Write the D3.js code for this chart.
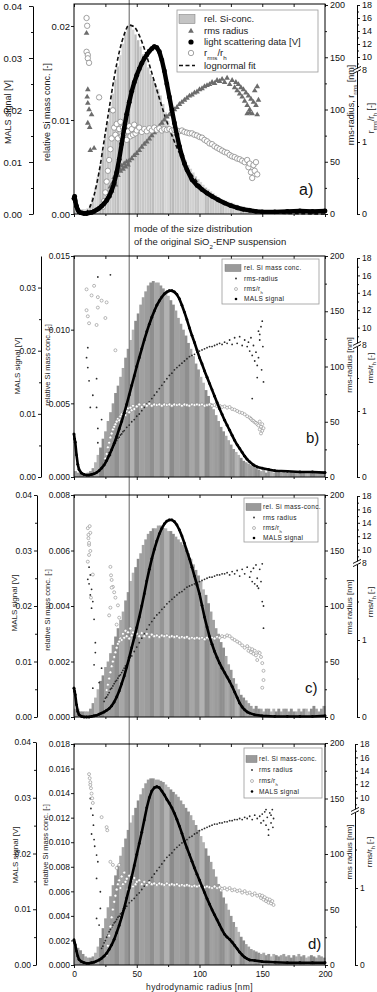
<!DOCTYPE html>
<html>
<head>
<meta charset="utf-8">
<script src="https://cdn.jsdelivr.net/npm/d3@7"></script>
<style>
  body { margin: 0; background: #fff; }
  svg { display: block; }
</style>
</head>
<body>
<script>
// ---------- data ----------
const binWidth = 2;                       // nm, histogram bins 0-2, 2-4, ... 198-200
const bins = d3.range(0, 200, binWidth);
const xTicks = [0, 50, 100, 150, 200];
const xMinor = [25, 75, 125, 175];
const modeRadius = 44;                    // nm, mode of the original SiO2-ENP suspension

// relative Si mass conc. per 2 nm bin
const histA = [0.0003,0.0005,0.0005,0.0005,0.0005,0.0006,0.0010,0.0018,0.0028,0.0039,
  0.0052,0.0067,0.0082,0.0098,0.0113,0.0128,0.0143,0.0157,0.0169,0.0181,
  0.0192,0.0199,0.0200,0.0196,0.0191,0.0185,0.0178,0.0170,0.0163,0.0156,
  0.0149,0.0143,0.0138,0.0133,0.0126,0.0117,0.0108,0.0099,0.0092,0.0085,
  0.0079,0.0073,0.0067,0.0062,0.0057,0.0052,0.0048,0.0044,0.0040,0.0037,
  0.0034,0.0031,0.0028,0.0026,0.0024,0.0022,0.0020,0.0018,0.0016,0.0015,
  0.0014,0.0013,0.0012,0.0011,0.0010,0.0009,0.0008,0.0008,0.0007,0.0007,
  0.0006,0.0006,0.0005,0.0005,0.0005,0.0004,0.0004,0.0004,0.0004,0.0003,
  0.0003,0.0003,0.0003,0.0003,0.0002,0.0002,0.0002,0.0002,0.0002,0.0002,
  0.0002,0.0002,0.0001,0.0001,0.0001,0.0001,0.0001,0.0001,0.0001,0.0001];
const histB = [0.0004,0.0003,0.0003,0.0002,0.0002,0.0003,0.0004,0.0006,0.0010,0.0015,
  0.0020,0.0026,0.0031,0.0038,0.0044,0.0050,0.0057,0.0062,0.0068,0.0074,
  0.0081,0.0087,0.0093,0.0100,0.0106,0.0111,0.0117,0.0122,0.0126,0.0130,
  0.0132,0.0133,0.0132,0.0132,0.0130,0.0128,0.0126,0.0123,0.0120,0.0117,
  0.0113,0.0108,0.0104,0.0100,0.0096,0.0091,0.0087,0.0082,0.0077,0.0073,
  0.0068,0.0064,0.0059,0.0055,0.0050,0.0046,0.0042,0.0038,0.0034,0.0031,
  0.0028,0.0025,0.0022,0.0019,0.0017,0.0015,0.0013,0.0011,0.0010,0.0009,
  0.0008,0.0007,0.0006,0.0005,0.0004,0.0005,0.0003,0.0004,0.0004,0.0003,
  0.0005,0.0004,0.0003,0.0004,0.0003,0.0003,0.0004,0.0003,0.0004,0.0003,
  0.0003,0.0004,0.0003,0.0003,0.0004,0.0003,0.0003,0.0004,0.0003,0.0003];
const histC = [0.0003,0.0003,0.0002,0.0002,0.0002,0.0002,0.0003,0.0005,0.0007,0.0010,
  0.0013,0.0015,0.0018,0.0020,0.0023,0.0026,0.0029,0.0032,0.0035,0.0038,
  0.0042,0.0045,0.0049,0.0052,0.0054,0.0057,0.0059,0.0062,0.0064,0.0066,
  0.0067,0.0068,0.0068,0.0069,0.0069,0.0068,0.0068,0.0067,0.0067,0.0066,
  0.0065,0.0064,0.0063,0.0062,0.0061,0.0059,0.0057,0.0055,0.0053,0.0051,
  0.0049,0.0046,0.0044,0.0041,0.0038,0.0035,0.0032,0.0030,0.0027,0.0025,
  0.0022,0.0019,0.0017,0.0014,0.0012,0.0010,0.0008,0.0007,0.0006,0.0005,
  0.0004,0.0003,0.0004,0.0003,0.0003,0.0002,0.0003,0.0003,0.0002,0.0003,
  0.0002,0.0003,0.0002,0.0003,0.0003,0.0002,0.0003,0.0002,0.0002,0.0003,
  0.0002,0.0003,0.0003,0.0002,0.0003,0.0004,0.0003,0.0002,0.0003,0.0004];
const histD = [0.0015,0.0014,0.0012,0.0009,0.0007,0.0006,0.0006,0.0007,0.0010,0.0015,
  0.0022,0.0030,0.0038,0.0047,0.0056,0.0065,0.0073,0.0081,0.0089,0.0096,
  0.0103,0.0110,0.0116,0.0122,0.0128,0.0134,0.0139,0.0144,0.0148,0.0151,
  0.0152,0.0152,0.0151,0.0151,0.0150,0.0149,0.0147,0.0145,0.0143,0.0141,
  0.0139,0.0137,0.0134,0.0131,0.0128,0.0125,0.0122,0.0118,0.0114,0.0110,
  0.0105,0.0100,0.0095,0.0089,0.0084,0.0078,0.0072,0.0066,0.0060,0.0055,
  0.0050,0.0045,0.0040,0.0035,0.0031,0.0027,0.0023,0.0020,0.0017,0.0015,
  0.0013,0.0012,0.0011,0.0010,0.0009,0.0010,0.0008,0.0009,0.0007,0.0009,
  0.0008,0.0007,0.0008,0.0009,0.0007,0.0008,0.0006,0.0008,0.0007,0.0009,
  0.0007,0.0008,0.0006,0.0007,0.0008,0.0007,0.0006,0.0008,0.0007,0.0006];

// lognormal fit of panel a [nm, rel. conc.]
const fitA = [[4,0],[8,0.0001],[12,0.0006],[16,0.0020],[20,0.0045],[24,0.0078],[28,0.0112],
  [32,0.0145],[36,0.0172],[40,0.0191],[44,0.0201],[48,0.0199],[52,0.0190],[56,0.0176],
  [60,0.0159],[64,0.0141],[68,0.0123],[72,0.0106],[76,0.0091],[80,0.0077],[84,0.0065],
  [88,0.0054],[92,0.0045],[96,0.0038],[100,0.0031],[108,0.0021],[116,0.0014],[124,0.0009],
  [132,0.0006],[140,0.0004],[150,0.0002],[160,0.0001],[175,0.00005],[200,0]];

// MALS / light scattering signal [nm, V]
const malsA = [[0,0.0030],[0.5,0.0034],[1,0.0025],[2,0.0015],[3,0.0008],[4,0.0004],[6,0.0002],
  [8,0.0001],[10,0.0001],[12,0.0002],[14,0.0003],[16,0.0005],[18,0.0008],[20,0.0011],
  [22,0.0015],[24,0.0020],[26,0.0026],[28,0.0034],[30,0.0045],[32,0.0060],[34,0.0080],
  [36,0.0105],[38,0.0135],[40,0.0165],[42,0.0192],[44,0.0215],[46,0.0236],[48,0.0253],
  [50,0.0267],[52,0.0279],[54,0.0290],[56,0.0299],[58,0.0306],[60,0.0313],[62,0.0318],
  [64,0.0322],[66,0.0320],[68,0.0312],[70,0.0296],[72,0.0275],[74,0.0250],[76,0.0225],
  [78,0.0200],[80,0.0175],[82,0.0152],[84,0.0130],[86,0.0112],[88,0.0097],[90,0.0085],
  [94,0.0066],[98,0.0055],[102,0.0047],[106,0.0040],[110,0.0034],[115,0.0027],[120,0.0021],
  [125,0.0016],[130,0.0012],[135,0.0009],[140,0.0007],[145,0.0005],[150,0.0004],[160,0.0004],
  [170,0.0005],[180,0.0006],[190,0.0005],[200,0.0006]];
const malsB = [[0,0.0068],[0.5,0.0060],[1,0.0055],[2,0.0035],[3,0.0020],[4,0.0012],[6,0.0006],
  [8,0.0004],[10,0.0003],[12,0.0003],[14,0.0004],[16,0.0005],[18,0.0007],[20,0.0010],
  [22,0.0014],[24,0.0019],[26,0.0026],[28,0.0034],[30,0.0043],[32,0.0053],[34,0.0064],
  [36,0.0076],[38,0.0088],[40,0.0101],[42,0.0115],[44,0.0130],[46,0.0145],[48,0.0160],
  [50,0.0175],[52,0.0189],[54,0.0203],[56,0.0217],[58,0.0230],[60,0.0242],[62,0.0253],
  [64,0.0263],[66,0.0272],[68,0.0279],[70,0.0285],[72,0.0290],[74,0.0293],[76,0.0295],
  [78,0.0295],[80,0.0293],[82,0.0289],[84,0.0282],[86,0.0272],[88,0.0261],[90,0.0249],
  [92,0.0236],[94,0.0224],[96,0.0213],[98,0.0201],[100,0.0189],[102,0.0179],[104,0.0168],
  [106,0.0158],[108,0.0148],[110,0.0138],[112,0.0128],[114,0.0118],[116,0.0108],[118,0.0099],
  [120,0.0090],[122,0.0082],[124,0.0074],[126,0.0066],[128,0.0058],[130,0.0051],[132,0.0045],
  [134,0.0039],[136,0.0033],[138,0.0028],[140,0.0024],[143,0.0019],[146,0.0016],[150,0.0014],
  [155,0.0012],[160,0.0010],[170,0.0009],[180,0.0008],[190,0.0008],[200,0.0007]];
const malsC = [[0,0.0052],[0.5,0.0046],[1,0.0040],[2,0.0022],[3,0.0010],[4,0.0004],[6,0.0001],
  [8,0],[10,0],[12,0],[14,0.0001],[16,0.0002],[18,0.0003],[20,0.0005],[22,0.0007],
  [24,0.0009],[26,0.0012],[28,0.0015],[30,0.0020],[32,0.0027],[34,0.0036],[36,0.0047],
  [38,0.0060],[40,0.0074],[42,0.0090],[44,0.0107],[46,0.0125],[48,0.0143],[50,0.0161],
  [52,0.0180],[54,0.0200],[56,0.0222],[58,0.0245],[60,0.0266],[62,0.0285],[64,0.0302],
  [66,0.0317],[68,0.0330],[70,0.0340],[72,0.0348],[74,0.0353],[76,0.0355],[78,0.0355],
  [80,0.0352],[82,0.0346],[84,0.0337],[86,0.0326],[88,0.0313],[90,0.0299],[92,0.0285],
  [94,0.0270],[96,0.0254],[98,0.0238],[100,0.0222],[102,0.0201],[104,0.0180],[106,0.0162],
  [108,0.0145],[110,0.0131],[112,0.0118],[114,0.0107],[116,0.0097],[118,0.0088],[120,0.0080],
  [122,0.0072],[124,0.0064],[126,0.0055],[128,0.0045],[130,0.0035],[132,0.0025],[134,0.0018],
  [136,0.0013],[138,0.0009],[140,0.0007],[144,0.0004],[150,0.0002],[160,0.0001],[170,0.0001],
  [180,0.0001],[190,0.0001],[200,0.0002]];
const malsD = [[0,0.0045],[0.5,0.0040],[1,0.0036],[2,0.0025],[3,0.0016],[4,0.0010],[6,0.0006],
  [8,0.0004],[10,0.0003],[12,0.0003],[14,0.0004],[16,0.0005],[18,0.0007],[20,0.0009],
  [22,0.0012],[24,0.0016],[26,0.0021],[28,0.0028],[30,0.0036],[32,0.0046],[34,0.0058],
  [36,0.0071],[38,0.0086],[40,0.0102],[42,0.0120],[44,0.0138],[46,0.0158],[48,0.0178],
  [50,0.0198],[52,0.0218],[54,0.0238],[56,0.0260],[58,0.0282],[60,0.0300],[62,0.0312],
  [64,0.0318],[66,0.0320],[68,0.0318],[70,0.0312],[72,0.0305],[74,0.0297],[76,0.0290],
  [78,0.0282],[80,0.0272],[82,0.0261],[84,0.0249],[86,0.0236],[88,0.0222],[90,0.0210],
  [92,0.0198],[94,0.0186],[96,0.0174],[98,0.0163],[100,0.0152],[102,0.0141],[104,0.0130],
  [106,0.0119],[108,0.0109],[110,0.0099],[112,0.0090],[114,0.0081],[116,0.0072],[118,0.0063],
  [120,0.0055],[122,0.0050],[124,0.0046],[126,0.0041],[128,0.0035],[130,0.0029],[132,0.0023],
  [134,0.0018],[136,0.0014],[138,0.0011],[140,0.0009],[144,0.0008],[150,0.0006],[160,0.0005],
  [170,0.0004],[180,0.0004],[190,0.0004],[200,0.0004]];

// rms radius [nm, nm]
const rmsA = [[10,173],[11,119],[10.5,112],[11,106],[12,100],[11,87],[12.5,83],[13,61],[16,63],[14,95],
  [26,14],[27,20],[28,17],[29,26],[30,22],[31,30],[32,35],[33,28],[34,40],[35,37],[36,44],[37,41],
  [38,46],[39,43],[40,48],[41,45],[42,50],[43,47],[44,51],[46,53],[48,56],[50,58],[52,61],[54,64],
  [56,67],[58,69],[60,72],[62,75],[64,78],[66,81],[68,84],[70,87],[72,90],[74,93],[76,95],[78,98],
  [80,100],[82,102],[84,105],[86,107],[88,109],[90,111],[92,113],[94,114],[96,116],[98,117],
  [100,119],[102,120],[104,122],[106,123],[108,124],[110,126],[112,125],[114,128],[116,127],
  [118,129],[120,126],[122,130],[124,124],[126,128],[128,121],[129,126],[130,118],[131,124],
  [132,115],[133,121],[134,112],[135,119],[136,108],[137,116],[138,104],[139,113],[140,100],
  [141,110],[142,96],[143,107],[144,118],[145,104],[146,95],[146,122],[147,109],[140,97],[138,96]];
const rmsB = [[29,183],[19,181],[11,117],[10,108],[11,99],[12,87],[18,89],[13,63],[18,63],[19,44],
  [19,31],[15,74],[22,52],
  [22,8],[23,12],[24,11],[25,15],[26,17],[27,19],[28,22],[29,20],[30,25],[31,27],[32,29],[33,31],
  [34,33],[35,35],[36,36],[37,38],[38,39],[39,41],[40,42],[42,45],[44,47],[46,50],[48,52],[50,55],
  [52,57],[54,60],[56,63],[58,66],[60,68],[62,71],[64,74],[66,77],[68,80],[70,83],[72,86],[74,89],
  [76,92],[78,94],[80,97],[82,99],[84,101],[86,103],[88,105],[90,107],[92,109],[94,110],[96,111],
  [98,113],[100,114],[102,115],[104,116],[106,117],[108,118],[110,118],[112,119],[114,120],
  [116,121],[118,120],[120,122],[122,121],[124,124],[126,120],[128,126],[130,121],[132,127],
  [134,119],[136,124],[138,118],[139,122],[140,114],[141,126],[142,110],[143,119],[144,105],
  [145,113],[146,101],[147,108],[148,129],[149,136],[150,141],[150.5,118],[149.5,97],[146,90],
  [142,71],[151,86],[148,124],[147,132]];
const rmsC = [[12,135],[13,128],[12,120],[14,115],[13,110],[15,104],[14,98],[17,67],[17,58],[16,47],
  [15,26],[20,31],[22,44],[11,124],[16,88],
  [24,14],[25,17],[26,18],[27,20],[28,22],[29,25],[30,26],[31,28],[32,30],[33,32],[34,33],[35,35],
  [36,37],[37,38],[38,40],[39,42],[40,44],[41,46],[42,47],[43,49],[44,51],[46,55],[48,59],[50,63],
  [52,67],[54,71],[56,75],[58,79],[60,83],[62,86],[64,89],[66,92],[68,94],[70,97],[72,99],[74,102],
  [76,104],[78,106],[80,108],[82,110],[84,112],[86,113],[88,115],[90,117],[92,118],[94,119],
  [96,120],[98,121],[100,122],[102,123],[104,124],[106,125],[108,126],[110,126],[112,127],
  [114,128],[116,128],[118,129],[120,129],[122,130],[124,128],[126,131],[128,129],[130,132],
  [132,127],[134,133],[136,129],[138,135],[140,126],[141,131],[142,122],[143,134],[144,120],
  [145,137],[146,125],[147,116],[148,133],[149,122],[150,138],[150,104],[151,100],[151,80],[146,118]];
const rmsD = [[13,150],[13.5,141],[15,135],[15.5,126],[16,113],[16.5,107],[18,99],[19,93],[18,78],
  [21,66],[18,42],[21,51],[20,36],[14,118],
  [22,15],[23,17],[24,20],[25,22],[26,25],[27,27],[28,30],[29,32],[30,34],[31,36],[32,38],[33,39],
  [34,41],[35,43],[36,44],[37,46],[38,47],[39,49],[40,50],[42,53],[44,56],[46,58],[48,60],[50,63],
  [52,65],[54,68],[56,71],[58,73],[60,76],[62,79],[64,82],[66,85],[68,88],[70,91],[72,94],[74,97],
  [76,99],[78,101],[80,104],[82,106],[84,108],[86,110],[88,112],[90,113],[92,115],[94,116],
  [96,118],[98,119],[100,121],[102,122],[104,123],[106,124],[108,125],[110,126],[112,127],
  [114,127],[116,128],[118,128],[120,129],[122,129],[124,130],[126,130],[128,131],[130,131],
  [132,132],[134,131],[136,133],[138,132],[140,134],[142,131],[144,135],[146,132],[148,134],
  [149,128],[150,136],[151,130],[152,138],[153,126],[154,133],[155,122],[156,137],[157,128],
  [158,140],[158.5,124],[159,132],[155,117],[153,140],[157,135]];

// r_rms / r_h [nm, -]  (values above 2 sit on the upper, broken part of the axis)
const ratioA = [[10,16],[10.5,14.8],[10,10.8],[11,10.3],[11,9.8],[12,9.1],
  [20,1.62],[23,0.1],[24,0.18],[25,0.3],[26,0.45],[27,0.6],[28,0.75],[29,0.9],[30,1.05],[31,1.44],
  [32,1.2],[33,1.1],[34,1.25],[35,1.05],[36,1.18],[37,1.28],[38,1.08],[39,1.2],[40,1.12],[41,1.26],
  [42,1.03],[43,1.15],[44,1.22],[45,1.08],[46,1.18],[47,1.1],[48,1.24],[49,1.12],[50,1.16],
  [52,1.2],[54,1.14],[56,1.18],[58,1.15],[60,1.19],[62,1.16],[64,1.2],[66,1.17],[68,1.19],
  [70,1.16],[72,1.18],[74,1.17],[76,1.18],[78,1.16],[80,1.17],[82,1.16],[84,1.15],[86,1.16],
  [88,1.14],[90,1.13],[92,1.12],[94,1.12],[96,1.1],[98,1.09],[100,1.07],[102,1.06],[104,1.03],
  [106,1.01],[108,0.98],[110,0.97],[112,0.94],[114,0.92],[116,0.9],[118,0.88],[120,0.86],
  [122,0.85],[124,0.82],[126,0.8],[128,0.79],[130,0.77],[132,0.76],[134,0.74],[136,0.72],
  [138,0.75],[139,0.65],[140,0.7],[141,0.58],[142,0.5],[143,0.68],[144,0.6],[145,0.72],[146,0.55]];
const ratioB = [[10,14.4],[14,13.7],[19,13.5],[10,12],[11,11.3],[12,10.5],[19,12.3],[26,12.9],
  [25,11.1],[18,10.3],[16,14.8],[22,13.1],
  [33,1.92],[24,0.2],[25,0.28],[26,0.35],[27,0.45],[28,0.52],[29,0.6],[30,0.66],[31,0.72],
  [32,0.76],[33,0.8],[34,0.84],[35,0.88],[36,0.86],[37,0.92],[38,0.95],[39,0.9],[40,0.98],
  [41,0.94],[42,1.0],[43,1.04],[44,0.98],[45,1.05],[46,1.01],[47,1.08],[48,1.03],[50,1.07],
  [52,1.1],[54,1.06],[56,1.1],[58,1.08],[60,1.11],[62,1.08],[64,1.1],[66,1.09],[68,1.1],
  [70,1.08],[72,1.1],[74,1.09],[76,1.1],[78,1.08],[80,1.1],[82,1.09],[84,1.1],[86,1.08],
  [88,1.1],[90,1.09],[92,1.08],[94,1.1],[96,1.09],[98,1.1],[100,1.09],[102,1.1],[104,1.08],
  [106,1.09],[108,1.1],[110,1.08],[112,1.09],[114,1.07],[116,1.08],[118,1.06],[120,1.07],
  [122,1.05],[124,1.06],[126,1.03],[128,1.02],[130,1.0],[132,0.98],[134,0.97],[136,0.95],
  [138,0.92],[140,0.9],[141,0.88],[142,0.86],[143,0.85],[144,0.83],[145,0.82],[146,0.8],
  [147,0.78],[148,0.84],[149,0.76],[150,0.7],[149,0.66],[150,0.8],[148,0.72],[151,0.74]];
const ratioC = [[11,13.2],[11.5,11.7],[12,10.7],[12,9.2],[13,12.5],[11,8.2],[12.5,13.5],[13,9.8],
  [11.5,12.2],[12,11.0],
  [15,1.85],[13.5,1.55],[29,1.95],[29.5,1.84],[30,1.78],[31,1.69],[32,1.62],[30,1.68],[33,1.55],
  [29,1.42],[28,1.32],[34,1.2],[35,1.45],[36,1.29],
  [26,0.35],[27,0.42],[28,0.5],[29,0.58],[30,0.66],[31,0.72],[32,0.78],[33,0.84],[34,0.9],
  [35,0.95],[36,0.98],[37,1.02],[38,1.0],[39,1.08],[40,1.03],[41,1.12],[42,1.05],[43,1.1],
  [44,1.02],[45,1.15],[46,1.06],[47,1.1],[48,1.04],[50,1.08],[52,1.05],[54,1.09],[56,1.05],
  [58,1.08],[60,1.04],[62,1.07],[64,1.05],[66,1.06],[68,1.04],[70,1.06],[72,1.05],[74,1.06],
  [76,1.04],[78,1.05],[80,1.04],[82,1.05],[84,1.03],[86,1.04],[88,1.03],[90,1.04],[92,1.02],
  [94,1.03],[96,1.02],[98,1.03],[100,1.02],[102,1.03],[104,1.01],[106,1.03],[108,1.02],
  [110,1.03],[112,1.02],[114,1.04],[116,1.03],[118,1.05],[120,1.04],[122,1.06],[124,1.05],
  [126,1.02],[128,1.0],[130,0.98],[132,0.96],[134,0.93],[136,0.9],[138,0.92],[139,0.86],
  [140,0.89],[141,0.84],[142,0.88],[143,0.82],[144,0.86],[145,0.8],[146,0.74],[147,0.84],
  [148,0.83],[149,0.78],[150,0.7],[151,0.6],[151,0.48],[150,0.38]];
const ratioD = [[12,13.5],[12.5,12.9],[13,11.9],[13.5,11.4],[14.5,9.9],[15,9.2],[13,12.3],[14,10.6],
  [22,1.92],[26,1.79],[26.5,1.75],[29,1.34],[31,1.3],[34,1.26],[36,1.3],
  [26,0.13],[27,0.25],[28,0.38],[29,0.5],[30,0.62],[31,0.72],[32,0.82],[33,0.9],[34,0.98],
  [35,1.05],[36,1.1],[37,1.0],[38,1.15],[39,1.05],[40,1.2],[41,1.08],[42,1.12],[43,0.98],
  [44,1.16],[45,1.06],[46,1.1],[47,1.02],[48,1.13],[49,1.05],[50,1.08],[52,1.1],[54,1.05],
  [56,1.08],[58,1.04],[60,1.07],[62,1.05],[64,1.06],[66,1.04],[68,1.06],[70,1.05],[72,1.04],
  [74,1.06],[76,1.04],[78,1.05],[80,1.04],[82,1.05],[84,1.03],[86,1.04],[88,1.03],[90,1.04],
  [92,1.03],[94,1.02],[96,1.03],[98,1.02],[100,1.03],[102,1.02],[104,1.01],[106,1.02],
  [108,1.01],[110,1.0],[112,1.02],[114,1.0],[116,1.01],[118,0.99],[120,1.0],[122,0.98],
  [124,1.0],[126,0.97],[128,0.98],[130,0.96],[132,0.97],[134,0.94],[136,0.96],[138,0.93],
  [140,0.94],[142,0.91],[144,0.93],[146,0.9],[148,0.91],[149,0.87],[150,0.9],[151,0.85],
  [152,0.88],[153,0.83],[154,0.86],[155,0.81],[156,0.85],[157,0.8],[158,0.83],[159,0.78]];

// texts
const legendA = [
  { kind: "bar", label: [["rel. Si-conc."]] },
  { kind: "tri", label: [["rms radius"]] },
  { kind: "mals", label: [["light scattering data [V]"]] },
  { kind: "ratio", label: [["r"], ["rms", 1], ["/r"], ["h", 1]] },
  { kind: "fit", label: [["lognormal fit"]] }
];
const legendB = [
  { kind: "bar", label: [["rel. Si mass conc."]] },
  { kind: "rms", label: [["rms-radius"]] },
  { kind: "ratio", label: [["rms/r"], ["h", 1]] },
  { kind: "mals", label: [["MALS signal"]] }
];
const legendCD = [
  { kind: "bar", label: [["rel. Si mass-conc."]] },
  { kind: "rms", label: [["rms radius"]] },
  { kind: "ratio", label: [["rms/r"], ["h", 1]] },
  { kind: "mals", label: [["MALS signal"]] }
];
const rmsTitleA = [["rms-radius, r"], ["rms", 1], [" [nm]"]];
const ratioTitleA = [["r"], ["rms", 1], ["/r"], ["h", 1], [" [-]"]];
const ratioTitle = [["rms/r"], ["h", 1], [" [-]"]];
const modeText1 = [["mode of the size distribution"]];
const modeText2 = [["of the original SiO"], ["2", 1], ["-ENP suspension"]];

// ---------- layout ----------
const FONT = '"Liberation Sans", Arial, Helvetica, sans-serif';
const W = 377, H = 992;
const X0 = 74, X1 = 325;
const shadesLight = ["#c9c9c9", "#bebebe", "#d0d0d0", "#c4c4c4", "#d6d6d6", "#bababa", "#c7c7c7"];
const shadesDark = ["#9c9c9c", "#8f8f8f", "#a7a7a7", "#959595", "#b2b2b2", "#8b8b8b", "#a1a1a1"];

const panels = [
  { letter: "a)", top: 4, bottom: 214, hist: histA, fit: fitA, mals: malsA, rms: rmsA, ratio: ratioA,
    shades: shadesLight, big: true,
    malsX: 33, malsTop: 6, malsMax: 0.04, malsTicks: [0, 0.01, 0.02, 0.03, 0.04],
    siMax: 0.02234, siTicks: [0, 0.01, 0.02], siFmt: ".2f",
    rmsTop: 5, ratioOne: 142, ratioTop: 5, ratioX: 357,
    malsTitle: { x: 8, y: 112 }, siTitle: { x: 47, y: 112 },
    rmsTitle: { x: 351, y: 105, segs: rmsTitleA }, ratioTitleP: { x: 371, y: 118, segs: ratioTitleA },
    legend: { items: legendA, x: 177, y: 10, w: 141, h: 62, rows: [19, 31, 42, 53, 65.5],
      swX: 179, swW: 16, swH: 9, symX: 191, textX: 204, size: 9.5 },
    label: { x: 299, y: 195, size: 16 } },
  { letter: "b)", top: 256, bottom: 477, hist: histB, mals: malsB, rms: rmsB, ratio: ratioB,
    shades: shadesDark,
    malsX: 41, malsTop: 256, malsMax: 0.035, malsTicks: [0, 0.01, 0.02, 0.03],
    siMax: 0.015, siTicks: [0, 0.005, 0.01, 0.015], siFmt: ".3f",
    rmsTop: 256, ratioOne: 411, ratioTop: 258, ratioX: 357,
    malsTitle: { x: 17, y: 366 }, siTitle: { x: 47, y: 365 },
    rmsTitle: { x: 349, y: 365, segs: [["rms-radius [nm]"]] }, ratioTitleP: { x: 370, y: 368, segs: ratioTitle },
    legend: { items: legendB, x: 222, y: 259, w: 97, h: 45, rows: [268, 278.5, 289, 299],
      swX: 225, swW: 16, swH: 7, symX: 236, textX: 244, size: 6.5 },
    label: { x: 306, y: 443, size: 15 } },
  { letter: "c)", top: 495, bottom: 717, hist: histC, mals: malsC, rms: rmsC, ratio: ratioC,
    shades: shadesDark,
    malsX: 37, malsTop: 495, malsMax: 0.04, malsTicks: [0, 0.01, 0.02, 0.03, 0.04],
    siMax: 0.008, siTicks: [0, 0.002, 0.004, 0.006, 0.008], siFmt: ".3f",
    rmsTop: 495, ratioOne: 640, ratioTop: 496, ratioX: 357,
    malsTitle: { x: 14, y: 603 }, siTitle: { x: 47, y: 610 },
    rmsTitle: { x: 349, y: 607, segs: [["rms radius [nm]"]] }, ratioTitleP: { x: 370, y: 602, segs: ratioTitle },
    legend: { items: legendCD, x: 244, y: 498, w: 74, h: 44, rows: [507, 517.5, 528, 538],
      swX: 246, swW: 15, swH: 7, symX: 254, textX: 263, size: 6.5 },
    label: { x: 305, y: 693, size: 15 } },
  { letter: "d)", top: 744, bottom: 965, hist: histD, mals: malsD, rms: rmsD, ratio: ratioD,
    shades: shadesDark, xLabels: true,
    malsX: 36, malsTop: 742, malsMax: 0.04, malsTicks: [0, 0.01, 0.02, 0.03, 0.04],
    siMax: 0.018, siTicks: [0, 0.002, 0.004, 0.006, 0.008, 0.01, 0.012, 0.014, 0.016, 0.018], siFmt: ".3f",
    rmsTop: 743, ratioOne: 888, ratioTop: 744, ratioX: 355,
    malsTitle: { x: 15, y: 855 }, siTitle: { x: 45, y: 845 },
    rmsTitle: { x: 349, y: 852, segs: [["rms radius [nm]"]] }, ratioTitleP: { x: 369, y: 852, segs: ratioTitle },
    legend: { items: legendCD, x: 244, y: 748, w: 78, h: 50, rows: [759, 770, 781, 791.5],
      swX: 246, swW: 11, swH: 7, symX: 252, textX: 259, size: 6.5 },
    label: { x: 308, y: 949, size: 15 } }
];

// ---------- drawing ----------
const svg = d3.select("body").append("svg")
  .attr("width", W).attr("height", H)
  .attr("font-family", FONT);

const x = d3.scaleLinear().domain([0, 200]).range([X0, X1]);

const layerHist = svg.append("g");
const layerMode = svg.append("g");
const layerMarks = svg.append("g");
const layerAxes = svg.append("g");

function rich(text, segs, size) {
  segs.forEach(s => {
    const t = text.append("tspan").text(s[0]);
    if (s[1]) t.attr("font-size", size * 0.65).attr("baseline-shift", "sub");
  });
  return text;
}

function styleAxis(g, size, keepDomain) {
  g.attr("font-family", FONT).attr("font-size", size);
  if (!keepDomain) g.select(".domain").remove();
  else g.select(".domain").attr("stroke", "#000").attr("stroke-width", 1);
  g.selectAll(".tick line").attr("stroke", "#000").attr("stroke-width", 0.9);
  g.selectAll(".tick text").attr("fill", "#111");
}

function vTitle(g, cx, cy, segs, size) {
  const t = g.append("text")
    .attr("transform", `translate(${cx},${cy}) rotate(-90)`)
    .attr("text-anchor", "middle")
    .attr("dy", "0.35em")
    .attr("font-size", size)
    .attr("fill", "#222");
  rich(t, segs, size);
}

panels.forEach(p => {
  const si = d3.scaleLinear().domain([0, p.siMax]).range([p.bottom, p.top]);
  const mals = d3.scaleLinear().domain([0, p.malsMax]).range([p.bottom, p.malsTop]);
  const rms = d3.scaleLinear().domain([0, 200]).range([p.bottom, p.rmsTop]);
  const lo = d3.scaleLinear().domain([0, 2]).range([p.bottom, p.bottom - 2 * (p.bottom - p.ratioOne)]);
  const yb = lo(2);
  const hi = d3.scaleLinear().domain([8, 18]).range([yb, p.ratioTop]);
  const ratioY = v => (v <= 2 ? lo(v) : hi(v));
  const tickSize = p.big ? 9.5 : 8.5;

  // histogram
  layerHist.append("g")
    .selectAll("rect")
    .data(p.hist)
    .join("rect")
    .attr("x", (d, i) => x(bins[i]))
    .attr("width", (d, i) => x(bins[i] + binWidth) - x(bins[i]) + (p.big ? 0 : 0.4))
    .attr("y", d => si(d))
    .attr("height", d => p.bottom - si(d))
    .attr("fill", (d, i) => p.shades[Math.floor(i / 2) % p.shades.length])
    .attr("stroke", p.big ? "#e2e2e2" : "none")
    .attr("stroke-width", 0.3);

  const marks = layerMarks.append("g");

  // lognormal fit
  if (p.fit) {
    marks.append("path")
      .datum(p.fit)
      .attr("d", d3.line().x(d => x(d[0])).y(d => si(d[1])).curve(d3.curveMonotoneX))
      .attr("fill", "none")
      .attr("stroke", "#111")
      .attr("stroke-width", 1.6)
      .attr("stroke-dasharray", "4,2.5");
  }

  // rms radius
  if (p.big) {
    marks.append("g").selectAll("path")
      .data(p.rms)
      .join("path")
      .attr("d", d3.symbol(d3.symbolTriangle, 14))
      .attr("transform", d => `translate(${x(d[0])},${rms(d[1])})`)
      .attr("fill", "#6c6c6c");
  } else {
    marks.append("g").selectAll("circle")
      .data(p.rms)
      .join("circle")
      .attr("cx", d => x(d[0]))
      .attr("cy", d => rms(d[1]))
      .attr("r", 0.9)
      .attr("fill", "#2a2a2a");
  }

  // rms / rh
  marks.append("g").selectAll("circle")
    .data(p.ratio)
    .join("circle")
    .attr("cx", d => x(d[0]))
    .attr("cy", d => ratioY(d[1]))
    .attr("r", p.big ? 2.7 : 1.5)
    .attr("fill", "#fff")
    .attr("stroke", "#8a8a8a")
    .attr("stroke-width", p.big ? 0.8 : 0.6);

  // MALS signal
  marks.append("path")
    .datum(p.mals)
    .attr("d", d3.line().x(d => x(d[0])).y(d => mals(d[1])))
    .attr("fill", "none")
    .attr("stroke", "#000")
    .attr("stroke-width", p.big ? 4.4 : 2.6)
    .attr("stroke-linejoin", "round")
    .attr("stroke-linecap", "round");
  marks.append("g").selectAll("circle")
    .data(p.mals)
    .join("circle")
    .attr("cx", d => x(d[0]))
    .attr("cy", d => mals(d[1]))
    .attr("r", p.big ? 2.4 : 1.4)
    .attr("fill", "#000");

  // ----- axes -----
  const ax = layerAxes.append("g");

  ax.append("rect")
    .attr("x", X0).attr("y", p.top)
    .attr("width", X1 - X0).attr("height", p.bottom - p.top)
    .attr("fill", "none").attr("stroke", "#000").attr("stroke-width", 1);

  // bottom / top x ticks
  const xb = ax.append("g").attr("transform", `translate(0,${p.bottom})`)
    .call(d3.axisBottom(x).tickValues(xTicks).tickSize(3).tickSizeOuter(0).tickPadding(3)
      .tickFormat(p.xLabels ? d3.format("d") : () => ""));
  styleAxis(xb, 8.5);
  const xbm = ax.append("g").attr("transform", `translate(0,${p.bottom})`)
    .call(d3.axisBottom(x).tickValues(xMinor).tickSize(2).tickFormat(() => ""));
  styleAxis(xbm, 8.5);
  const xt = ax.append("g").attr("transform", `translate(0,${p.top})`)
    .call(d3.axisTop(x).tickValues(xTicks.concat(xMinor)).tickSize(-3).tickFormat(() => ""));
  styleAxis(xt, 8.5);

  // MALS axis
  const ml = ax.append("g").attr("transform", `translate(${p.malsX},0)`)
    .call(d3.axisLeft(mals).tickValues(p.malsTicks).tickSize(p.big ? 4 : 3).tickSizeOuter(0)
      .tickPadding(p.big ? 7 : 2).tickFormat(d3.format(".2f")));
  styleAxis(ml, tickSize, true);
  const mlm = ax.append("g").attr("transform", `translate(${p.malsX},0)`)
    .call(d3.axisLeft(mals).tickValues(p.malsTicks.slice(0, -1).map(v => v + 0.005)).tickSize(2)
      .tickFormat(() => ""));
  styleAxis(mlm, tickSize);

  // relative Si conc axis
  const sl = ax.append("g").attr("transform", `translate(${X0},0)`)
    .call(d3.axisLeft(si).tickValues(p.siTicks).tickSize(3).tickPadding(1)
      .tickFormat(d3.format(p.siFmt)));
  styleAxis(sl, tickSize);

  // rms radius axis
  const rr = ax.append("g").attr("transform", `translate(${X1},0)`)
    .call(d3.axisRight(rms).tickValues([0, 50, 100, 150, 200]).tickSize(3).tickPadding(2)
      .tickFormat(d3.format("d")));
  styleAxis(rr, p.big ? 9 : 8.5);
  const rrm = ax.append("g").attr("transform", `translate(${X1},0)`)
    .call(d3.axisRight(rms).tickValues([25, 75, 125, 175]).tickSize(2).tickFormat(() => ""));
  styleAxis(rrm, 8);

  // rms/rh broken axis
  const rl = ax.append("g").attr("transform", `translate(${p.ratioX},0)`)
    .call(d3.axisRight(lo).tickValues([0, 1]).tickSize(3).tickSizeOuter(0).tickPadding(2)
      .tickFormat(d3.format("d")));
  styleAxis(rl, p.big ? 9 : 8.5, true);
  const rlm = ax.append("g").attr("transform", `translate(${p.ratioX},0)`)
    .call(d3.axisRight(lo).tickValues([0.5, 1.5]).tickSize(2).tickFormat(() => ""));
  styleAxis(rlm, 8);
  const rh = ax.append("g").attr("transform", `translate(${p.ratioX},0)`)
    .call(d3.axisRight(hi).tickValues([8, 10, 12, 14, 16, 18]).tickSize(3).tickSizeOuter(0).tickPadding(2)
      .tickFormat(d3.format("d")));
  styleAxis(rh, p.big ? 9 : 8.5, true);
  const rhm = ax.append("g").attr("transform", `translate(${p.ratioX},0)`)
    .call(d3.axisRight(hi).tickValues([9, 11, 13, 15, 17]).tickSize(2).tickFormat(() => ""));
  styleAxis(rhm, 8);
  // break marks
  ax.append("rect").attr("x", p.ratioX - 2).attr("y", yb - 1.5).attr("width", 4).attr("height", 3).attr("fill", "#fff");
  [-1.6, 1.6].forEach(o => {
    ax.append("line")
      .attr("x1", p.ratioX - 4).attr("y1", yb + o + 2)
      .attr("x2", p.ratioX + 4).attr("y2", yb + o - 2)
      .attr("stroke", "#000").attr("stroke-width", 0.9);
  });

  // axis titles
  const titleSize = p.big ? 9 : 8;
  vTitle(ax, p.malsTitle.x, p.malsTitle.y, [["MALS signal [V]"]], titleSize);
  vTitle(ax, p.siTitle.x, p.siTitle.y, [["relative Si mass conc. [-]"]], p.big ? 9 : 7.5);
  vTitle(ax, p.rmsTitle.x, p.rmsTitle.y, p.rmsTitle.segs, titleSize);
  vTitle(ax, p.ratioTitleP.x, p.ratioTitleP.y, p.ratioTitleP.segs, p.big ? 8.5 : 8);

  if (p.xLabels) {
    ax.append("text")
      .attr("x", x(100)).attr("y", 990)
      .attr("text-anchor", "middle")
      .attr("font-size", 8.5)
      .attr("letter-spacing", 0.4)
      .attr("fill", "#222")
      .text("hydrodynamic radius [nm]");
  }

  // legend
  const L = p.legend;
  const lg = ax.append("g");
  lg.append("rect")
    .attr("x", L.x).attr("y", L.y).attr("width", L.w).attr("height", L.h)
    .attr("fill", "#fff").attr("stroke", "#9a9a9a").attr("stroke-width", 0.8);
  L.items.forEach((it, i) => {
    const cy = L.rows[i];
    if (it.kind === "bar") {
      lg.append("rect").attr("x", L.swX).attr("y", cy - L.swH / 2)
        .attr("width", L.swW).attr("height", L.swH)
        .attr("fill", p.big ? "#c4c4c4" : "#9a9a9a").attr("stroke", "#777").attr("stroke-width", 0.5);
    } else if (it.kind === "tri") {
      lg.append("path").attr("d", d3.symbol(d3.symbolTriangle, 14))
        .attr("transform", `translate(${L.symX},${cy})`).attr("fill", "#6c6c6c");
    } else if (it.kind === "rms") {
      lg.append("circle").attr("cx", L.symX).attr("cy", cy).attr("r", 0.9).attr("fill", "#2a2a2a");
    } else if (it.kind === "ratio") {
      lg.append("circle").attr("cx", L.symX).attr("cy", cy).attr("r", p.big ? 2.7 : 1.5)
        .attr("fill", "#fff").attr("stroke", "#8a8a8a").attr("stroke-width", p.big ? 0.8 : 0.6);
    } else if (it.kind === "mals") {
      lg.append("circle").attr("cx", L.symX).attr("cy", cy).attr("r", p.big ? 2.6 : 1.3).attr("fill", "#000");
    } else if (it.kind === "fit") {
      lg.append("line").attr("x1", L.swX).attr("x2", L.swX + L.swW).attr("y1", cy).attr("y2", cy)
        .attr("stroke", "#111").attr("stroke-width", 1.6).attr("stroke-dasharray", "4,2.5");
    }
    const t = lg.append("text")
      .attr("x", L.textX).attr("y", cy + L.size * 0.36)
      .attr("font-size", L.size)
      .attr("letter-spacing", p.big ? 0 : 0.35)
      .attr("fill", "#222");
    rich(t, it.label, L.size);
  });

  // panel letter
  ax.append("text")
    .attr("x", p.label.x).attr("y", p.label.y)
    .attr("font-size", p.label.size)
    .attr("fill", "#111")
    .text(p.letter);
});

// mode line through all panels
layerMode.append("line")
  .attr("x1", x(modeRadius)).attr("x2", x(modeRadius))
  .attr("y1", 0).attr("y2", 965)
  .attr("stroke", "#7a7a7a").attr("stroke-width", 1.2);

const mt = svg.append("g").attr("font-size", 9.5).attr("fill", "#222");
rich(mt.append("text").attr("x", 134).attr("y", 232), modeText1, 9.5);
rich(mt.append("text").attr("x", 134).attr("y", 245), modeText2, 9.5);
</script>
</body>
</html>
